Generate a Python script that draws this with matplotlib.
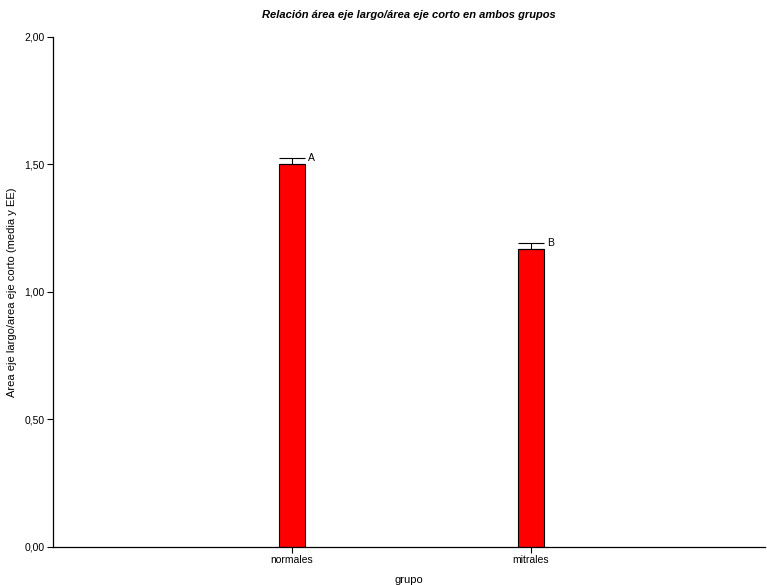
import numpy as np
import matplotlib
matplotlib.use('Agg')
import matplotlib.pyplot as plt

plt.rcParams['font.family'] = ['Liberation Sans', 'DejaVu Sans']

grupos = ['normales', 'mitrales']
medias = [1.50, 1.17]
ee = [0.025, 0.022]
letras = ['A', 'B']
yticks = [0.0, 0.5, 1.0, 1.5, 2.0]
ytick_labels = ['0,00', '0,50', '1,00', '1,50', '2,00']

fig = plt.figure(figsize=(7.67, 5.85), dpi=100)
ax = fig.add_axes([0.0691, 0.065, 0.9279, 0.8718])

x = np.arange(1, len(grupos) + 1)
w = 0.11
ax.bar(x, medias, width=w, color='#ff0000', edgecolor='black', linewidth=0.8, zorder=2)
# solo la rama superior del error
ax.errorbar(x, medias, yerr=[np.zeros(len(ee)), ee], fmt='none', ecolor='black',
            elinewidth=0.8, capsize=9.5, capthick=0.8, zorder=3)
for xi, m, e, l in zip(x, medias, ee, letras):
    ax.text(xi + w / 2 + 0.012, m + e + 0.002, l, fontsize=7.5, ha='left', va='center')

ax.set_xlim(0, 2.98)
ax.set_ylim(0, 2.0)
ax.set_xticks(x)
ax.set_xticklabels(grupos, fontsize=7.5)
ax.set_yticks(yticks)
ax.set_yticklabels(ytick_labels, fontsize=7.5)
ax.tick_params(direction='out', length=4, width=0.8, pad=2)

for s in ['top', 'right']:
    ax.spines[s].set_visible(False)
ax.spines['left'].set_linewidth(0.9)
ax.spines['bottom'].set_linewidth(0.9)

ax.set_xlabel('grupo', fontsize=8, labelpad=7)
ax.set_ylabel('Area eje largo/area eje corto (media y EE)', fontsize=8)
ax.yaxis.set_label_coords(-0.051, 0.5)
ax.set_title('Relación área eje largo/área eje corto en ambos grupos', fontsize=8,
             fontweight='bold', fontstyle='italic', pad=14)

fig.savefig('out.png', dpi=100)
